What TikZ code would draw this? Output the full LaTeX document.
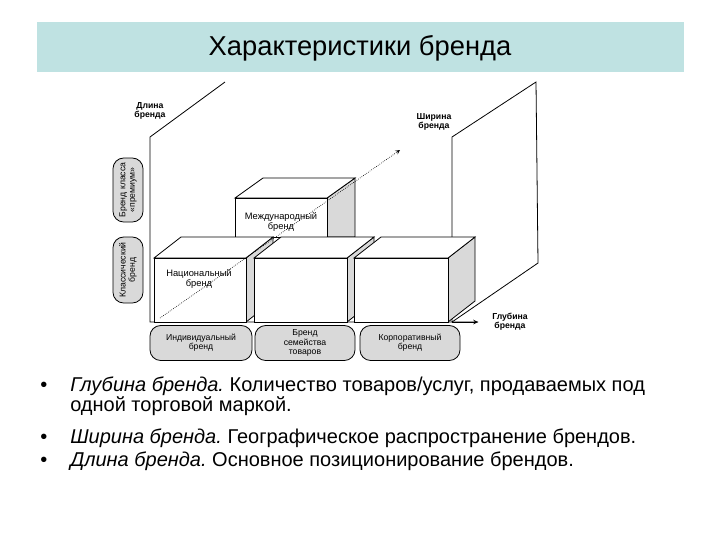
\documentclass[tikz,border=0pt]{standalone}
\usepackage{fontspec}
\setmainfont{Liberation Sans}
\frenchspacing
\definecolor{bar}{HTML}{BFE2E2}
\definecolor{side}{HTML}{D9D9D9}
\begin{document}
\begin{tikzpicture}[x=0.75pt,y=-0.75pt,
  box/.style={draw,fill=white,line width=0.6pt},
  sidef/.style={draw,fill=side,line width=0.6pt},
  pill/.style={draw,fill=side,rounded corners=8pt,line width=0.6pt,align=center,font=\fontsize{6.5}{7}\selectfont,inner sep=0pt},
  lbl/.style={align=center,font=\fontsize{6.5}{7}\selectfont\bfseries,inner sep=0pt},
  ax/.style={line width=0.6pt}]
\useasboundingbox (0,0) rectangle (720,540);
\fill[bar] (37,22) rectangle (684,72);
\node (title) at (360,48) {\fontsize{20.5}{24}\selectfont Характеристики бренда};
% frame lines
\coordinate (lt) at (150,137); \coordinate (lb) at (150,322);
\coordinate (ltt) at (225,82);
\coordinate (rt) at (452,137); \coordinate (rb) at (452,322);
\coordinate (rtt) at (536,82); \coordinate (rbb) at (538,263);
\coordinate (ax) at (478,322);
\draw[ax] (ltt) -- (lt) -- (lb) -- (ax);
\draw[ax,-stealth] (rb) -- (ax);
\draw[ax] (rb) -- (rt) -- (rtt) -- (rbb) -- (rb);
% top box
\draw[sidef] (327,198) -- (355,178) -- (355,237) -- (327,237) -- cycle;
\draw[box] (235,198) -- (263,178) -- (355,178) -- (327,198) -- cycle;
\draw[box] (235,198) rectangle (327,237);
\node[font=\fontsize{7}{8}\selectfont,align=center] (mb) at (281,222) {Международный\\бренд};
% boxes
\foreach \a/\b in {154/246,254/347,354/448}{
  \draw[sidef] (\b,258) -- (\b+27,237) -- (\b+27,301) -- (\b,322) -- cycle;
  \draw[box] (\a,258) -- (\a+27,237) -- (\b+27,237) -- (\b,258) -- cycle;
  \draw[box] (\a,258) rectangle (\b,322);
}
\node[font=\fontsize{7}{8}\selectfont,align=center] (nb) at (199,279) {Национальный\\бренд};
\coordinate (d1) at (160,318); \coordinate (d2) at (400,150);
\draw[densely dotted,-stealth,line width=0.5pt] (d1) -- (d2);
% labels
\node[lbl] (L) at (150,111) {Длина\\бренда};
\node[lbl] (W) at (434,122) {Ширина\\бренда};
\node[lbl] (D) at (510,322) {Глубина\\бренда};
% pills
\node[pill,minimum width=102pt*0.75,minimum height=35*0.75pt] (p1) at (201,343) {Индивидуальный\\бренд};
\node[pill,minimum width=100*0.75pt,minimum height=35*0.75pt] (p2) at (305,343) {Бренд\\семейства\\товаров};
\node[pill,minimum width=100*0.75pt,minimum height=35*0.75pt] (p3) at (410,343) {Корпоративный\\бренд};
\node[pill,rotate=90,minimum width=64*0.75pt,minimum height=30*0.75pt] (q1) at (128,190) {Бренд класса\\«премиум»};
\node[pill,rotate=90,minimum width=66*0.75pt,minimum height=30*0.75pt] (q2) at (128,270) {Классический\\бренд};
% bullets
\begin{scope}[every node/.style={anchor=base west,inner sep=0pt,font=\fontsize{15}{18}\selectfont}]
\node (b1) at (40,391) {•}; \node (t1) at (70,391) {\itshape Глубина бренда.\upshape{} Количество товаров/услуг, продаваемых под};
\node (t1b) at (70,411) {одной торговой маркой.};
\node (b2) at (40,443) {•}; \node (t2) at (70,443) {\itshape Ширина бренда.\upshape{} Географическое распространение брендов.};
\node (b3) at (40,466) {•}; \node (t3) at (70,466) {\itshape Длина бренда.\upshape{} Основное позиционирование брендов.};
\end{scope}
\end{tikzpicture}
\end{document}
